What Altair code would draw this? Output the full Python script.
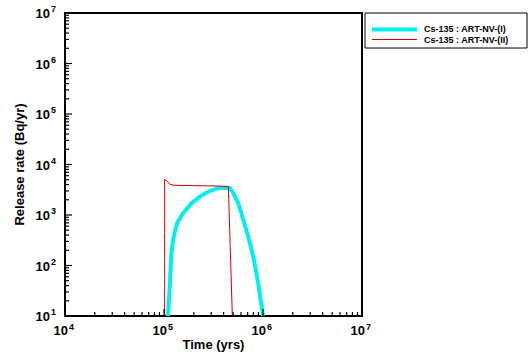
import altair as alt
import pandas as pd

# ---- data ----
series_names = ["Cs-135 : ART-NV-(I)", "Cs-135 : ART-NV-(II)"]

cyan_t = [1.097e5, 1.143e5, 1.186e5, 1.253e5, 1.353e5, 1.556e5, 1.888e5, 2.30e5,
          2.78e5, 3.51e5, 4.20e5, 4.64e5, 5.01e5, 5.63e5, 6.33e5, 7.11e5, 7.98e5,
          8.84e5, 9.84e5, 1.0e6]
cyan_r = [10, 38, 174, 372, 687, 1080, 1690, 2300,
          2890, 3390, 3480, 3420, 2690, 1700, 795, 372, 149,
          51, 13, 10]

red_t = [1.016e5, 1.016e5, 1.072e5, 1.15e5, 1.233e5, 1.45e5, 3.51e5, 4.47e5, 4.90e5]
red_r = [10, 5100, 4700, 4050, 3900, 3850, 3750, 3630, 10]

x_exps = [4, 5, 6, 7]
y_exps = [1, 2, 3, 4, 5, 6, 7]
minor_mult = [2, 3, 4, 5, 6, 7, 8, 9]

x_title = "Time (yrs)"
y_title = "Release rate (Bq/yr)"

W, H = 297, 303
FONT = "Liberation Sans"

xs = alt.Scale(type="log", domain=[1e4, 1e7])
ys = alt.Scale(type="log", domain=[10, 1e7])

cyan_df = pd.DataFrame({"t": cyan_t, "r": cyan_r, "o": range(len(cyan_t))})
red_df = pd.DataFrame({"t": red_t, "r": red_r, "o": range(len(red_t))})

x_major = pd.DataFrame({"v": [10.0 ** e for e in x_exps], "e": [str(e) for e in x_exps]})
y_major = pd.DataFrame({"v": [10.0 ** e for e in y_exps], "e": [str(e) for e in y_exps]})
x_minor = pd.DataFrame({"v": [m * 10.0 ** e for e in x_exps[:-1] for m in minor_mult]})
y_minor = pd.DataFrame({"v": [m * 10.0 ** e for e in y_exps[:-1] for m in minor_mult]})

cyan_line = alt.Chart(cyan_df).mark_line(color="#00F0F0", strokeWidth=4, clip=True).encode(
    x=alt.X("t:Q", scale=xs, axis=None),
    y=alt.Y("r:Q", scale=ys, axis=None),
    order="o:Q",
)
red_line = alt.Chart(red_df).mark_line(color="#D00000", strokeWidth=1, clip=True).encode(
    x=alt.X("t:Q", scale=xs, axis=None),
    y=alt.Y("r:Q", scale=ys, axis=None),
    order="o:Q",
)

# inward ticks
xt_major = alt.Chart(x_major).mark_rule(color="black", strokeWidth=1.2).encode(
    x=alt.X("v:Q", scale=xs, axis=None), y=alt.value(H), y2=alt.value(H - 7))
xt_minor = alt.Chart(x_minor).mark_rule(color="black", strokeWidth=1.2).encode(
    x=alt.X("v:Q", scale=xs, axis=None), y=alt.value(H), y2=alt.value(H - 4))
yt_major = alt.Chart(y_major).mark_rule(color="black", strokeWidth=1.2).encode(
    y=alt.Y("v:Q", scale=ys, axis=None), x=alt.value(0), x2=alt.value(7))
yt_minor = alt.Chart(y_minor).mark_rule(color="black", strokeWidth=1.2).encode(
    y=alt.Y("v:Q", scale=ys, axis=None), x=alt.value(0), x2=alt.value(4))

# tick labels 10^n
xl_base = alt.Chart(x_major).mark_text(font=FONT, fontWeight="bold", fontSize=13,
                                        align="right", baseline="middle", dx=3, dy=15).encode(
    x=alt.X("v:Q", scale=xs, axis=None), y=alt.value(H), text=alt.value("10"))
xl_exp = alt.Chart(x_major).mark_text(font=FONT, fontWeight="bold", fontSize=9,
                                       align="left", baseline="middle", dx=4, dy=11).encode(
    x=alt.X("v:Q", scale=xs, axis=None), y=alt.value(H), text="e:N")
yl_base = alt.Chart(y_major).mark_text(font=FONT, fontWeight="bold", fontSize=13,
                                        align="right", baseline="middle", dx=-15, dy=1).encode(
    y=alt.Y("v:Q", scale=ys, axis=None), x=alt.value(0), text=alt.value("10"))
yl_exp = alt.Chart(y_major).mark_text(font=FONT, fontWeight="bold", fontSize=9,
                                       align="left", baseline="middle", dx=-14, dy=-4).encode(
    y=alt.Y("v:Q", scale=ys, axis=None), x=alt.value(0), text="e:N")

# axis titles
one = pd.DataFrame({"a": [0]})
xtitle = alt.Chart(one).mark_text(font=FONT, fontWeight="bold", fontSize=13,
                                  align="center", baseline="middle").encode(
    x=alt.value(W / 2), y=alt.value(H + 29), text=alt.value(x_title))
ytitle = alt.Chart(one).mark_text(font=FONT, fontWeight="bold", fontSize=13, angle=270,
                                  align="center", baseline="middle").encode(
    x=alt.value(-45), y=alt.value(H / 2), text=alt.value(y_title))

# legend
leg_box = alt.Chart(one).mark_rect(fill="white", stroke="black", strokeWidth=1).encode(
    x=alt.value(300), x2=alt.value(462), y=alt.value(0), y2=alt.value(35))
leg_df1 = pd.DataFrame({"name": [series_names[0]]})
leg_df2 = pd.DataFrame({"name": [series_names[1]]})
leg_l1 = alt.Chart(leg_df1).mark_rule(color="#00F0F0", strokeWidth=4).encode(
    x=alt.value(307), x2=alt.value(352), y=alt.value(16.5))
leg_l2 = alt.Chart(leg_df2).mark_rule(color="#D00000", strokeWidth=1).encode(
    x=alt.value(307), x2=alt.value(352), y=alt.value(26.5))
leg_t1 = alt.Chart(leg_df1).mark_text(font=FONT, fontWeight="bold", fontSize=9,
                                      align="left", baseline="middle").encode(
    x=alt.value(359), y=alt.value(16), text="name:N")
leg_t2 = alt.Chart(leg_df2).mark_text(font=FONT, fontWeight="bold", fontSize=9,
                                      align="left", baseline="middle").encode(
    x=alt.value(359), y=alt.value(26.5), text="name:N")

chart = alt.layer(
    cyan_line, red_line,
    xt_major, xt_minor, yt_major, yt_minor,
    xl_base, xl_exp, yl_base, yl_exp,
    xtitle, ytitle,
    leg_box, leg_l1, leg_l2, leg_t1, leg_t2,
).properties(
    width=W, height=H,
    autosize=alt.AutoSizeParams(type="none"),
    padding={"left": 65, "top": 13, "right": 166, "bottom": 42},
    background="white",
).configure_view(stroke="black", strokeWidth=2)

chart.save("out.html", embed_options={"renderer": "svg", "actions": False})
